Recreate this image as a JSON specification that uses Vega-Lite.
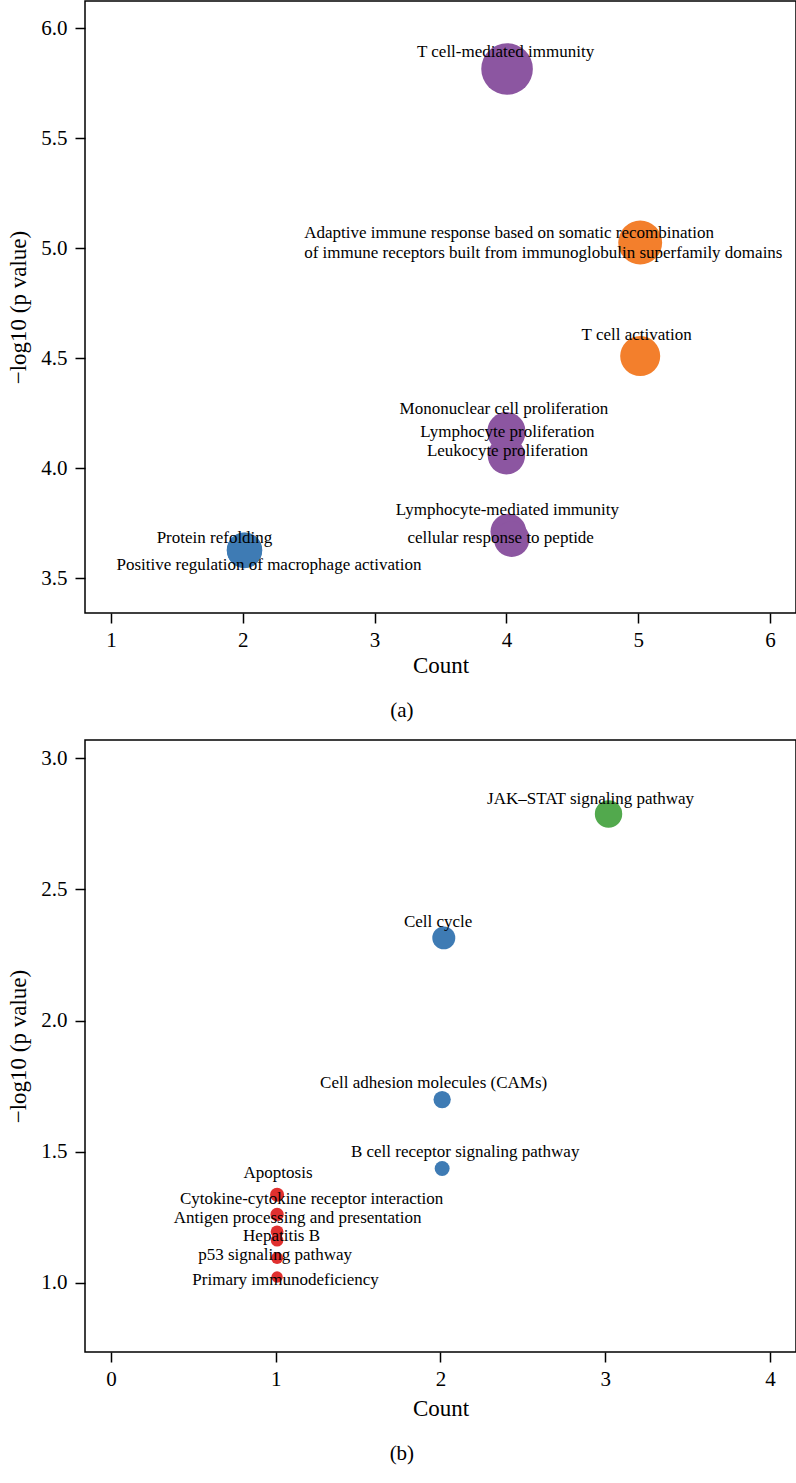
{
 "$schema": "https://vega.github.io/schema/vega-lite/v6.json",
 "background": "white",
 "padding": {"left": 7, "top": 0, "right": 1, "bottom": 0},
 "config": {
  "font": "Liberation Serif",
  "view": {"stroke": "black", "strokeWidth": 1.5},
  "axis": {"domain": false, "grid": false, "tickSize": 10, "tickWidth": 1.5, "tickColor": "black", "labelFont": "Liberation Serif", "labelFontSize": 21, "labelColor": "black", "titleFont": "Liberation Serif", "titleFontSize": 23, "titleFontWeight": "normal", "titleColor": "black", "labelFlush": false},
  "axisX": {"labelPadding": 6, "titlePadding": 4},
  "axisY": {"labelPadding": 8, "titlePadding": 10},
  "title": {"font": "Liberation Serif", "fontSize": 21, "fontWeight": "normal", "color": "black", "orient": "bottom", "frame": "bounds", "anchor": "middle", "offset": 23},
  "text": {"font": "Liberation Serif", "fontSize": 17, "baseline": "middle", "align": "center", "color": "black", "lineBreak": "\n", "lineHeight": 20},
  "circle": {"opacity": 1},
  "concat": {"spacing": 17},
  "legend": {"disable": true}
 },
 "datasets": {
  "a": [
   {"term": "T cell-mediated immunity", "count": 4.005, "logp": 5.814},
   {"term": "Adaptive immune response based on somatic recombination\n\u00a0of immune receptors built from immunoglobulin superfamily domains", "count": 5.015, "logp": 5.025},
   {"term": "T cell activation", "count": 5.015, "logp": 4.509},
   {"term": "Mononuclear cell proliferation", "count": 4.0, "logp": 4.168},
   {"term": "Lymphocyte proliferation", "count": 4.0, "logp": 4.16},
   {"term": "Leukocyte proliferation", "count": 4.0, "logp": 4.056},
   {"term": "Lymphocyte-mediated immunity", "count": 4.015, "logp": 3.711},
   {"term": "cellular response to peptide", "count": 4.04, "logp": 3.677},
   {"term": "Protein refolding", "count": 2.013, "logp": 3.627},
   {"term": "Positive regulation of macrophage activation", "count": 2.013, "logp": 3.625}
  ],
  "b": [
   {"term": "JAK–STAT signaling pathway", "count": 3.02, "logp": 2.787},
   {"term": "Cell cycle", "count": 2.02, "logp": 2.315},
   {"term": "Cell adhesion molecules (CAMs)", "count": 2.01, "logp": 1.699},
   {"term": "B cell receptor signaling pathway", "count": 2.01, "logp": 1.436},
   {"term": "Apoptosis", "count": 1.008, "logp": 1.336},
   {"term": "Cytokine-cytokine receptor interaction", "count": 1.008, "logp": 1.261},
   {"term": "Antigen processing and presentation", "count": 1.008, "logp": 1.195},
   {"term": "Hepatitis B", "count": 1.008, "logp": 1.163},
   {"term": "p53 signaling pathway", "count": 1.008, "logp": 1.095},
   {"term": "Primary immunodeficiency", "count": 1.008, "logp": 1.023}
  ]
 },
 "resolve": {"scale": {"x": "independent", "y": "independent", "size": "independent"}},
 "vconcat": [
  {
   "width": 711, "height": 612,
   "title": {"text": "(a)"},
   "data": {"name": "a"},
   "encoding": {
    "x": {"field": "count", "type": "quantitative", "scale": {"domain": [0.803, 6.197], "nice": false, "zero": false}, "axis": {"values": [1, 2, 3, 4, 5, 6], "title": "Count"}},
    "y": {"field": "logp", "type": "quantitative", "scale": {"domain": [3.341, 6.123], "nice": false, "zero": false}, "axis": {"values": [3.5, 4, 4.5, 5, 5.5, 6], "format": ".1f", "title": "−log10 (p value)"}}
   },
   "layer": [
    {"mark": {"type": "circle", "opacity": 1},
     "encoding": {
      "size": {"field": "logp", "type": "quantitative", "scale": {"type": "pow", "exponent": 4, "domain": [3.627, 5.814], "range": [1253, 2663], "zero": false}, "legend": null},
      "color": {"field": "count", "type": "quantitative", "scale": {"type": "threshold", "domain": [1.5, 2.5, 3.5, 4.5], "range": ["#E0302F", "#3E7BB4", "#52A94D", "#8C56A1", "#F37F2C"]}, "legend": null}
     }},
    {"transform": [{"filter": "datum.term === 'T cell-mediated immunity'"}], "mark": {"type": "text", "dx": -1.5, "dy": -17}, "encoding": {"text": {"field": "term"}}},
    {"transform": [{"filter": "indexof(datum.term, 'Adaptive') === 0"}], "mark": {"type": "text", "align": "left", "dx": -336, "dy": -9.5}, "encoding": {"text": {"field": "term"}}},
    {"transform": [{"filter": "datum.term === 'T cell activation'"}], "mark": {"type": "text", "dx": -3.5, "dy": -21}, "encoding": {"text": {"field": "term"}}},
    {"transform": [{"filter": "datum.term === 'Mononuclear cell proliferation'"}], "mark": {"type": "text", "dx": -2.5, "dy": -22}, "encoding": {"text": {"field": "term"}}},
    {"transform": [{"filter": "datum.term === 'Lymphocyte proliferation'"}], "mark": {"type": "text", "dx": 1, "dy": -1}, "encoding": {"text": {"field": "term"}}},
    {"transform": [{"filter": "datum.term === 'Leukocyte proliferation'"}], "mark": {"type": "text", "dx": 1, "dy": -5}, "encoding": {"text": {"field": "term"}}},
    {"transform": [{"filter": "datum.term === 'Lymphocyte-mediated immunity'"}], "mark": {"type": "text", "dx": -1, "dy": -21.5}, "encoding": {"text": {"field": "term"}}},
    {"transform": [{"filter": "datum.term === 'cellular response to peptide'"}], "mark": {"type": "text", "dx": -11, "dy": -1}, "encoding": {"text": {"field": "term"}}},
    {"transform": [{"filter": "datum.term === 'Protein refolding'"}], "mark": {"type": "text", "dx": -30, "dy": -12}, "encoding": {"text": {"field": "term"}}},
    {"transform": [{"filter": "datum.term === 'Positive regulation of macrophage activation'"}], "mark": {"type": "text", "dx": 24.5, "dy": 14}, "encoding": {"text": {"field": "term"}}}
   ]
  },
  {
   "width": 711, "height": 612,
   "title": {"text": "(b)"},
   "data": {"name": "b"},
   "encoding": {
    "x": {"field": "count", "type": "quantitative", "scale": {"domain": [-0.158, 4.158], "nice": false, "zero": false}, "axis": {"values": [0, 1, 2, 3, 4], "title": "Count", "titlePadding": 8}},
    "y": {"field": "logp", "type": "quantitative", "scale": {"domain": [0.737, 3.069], "nice": false, "zero": false}, "axis": {"values": [1, 1.5, 2, 2.5, 3], "format": ".1f", "title": "−log10 (p value)"}}
   },
   "layer": [
    {"mark": {"type": "circle", "opacity": 1},
     "encoding": {
      "size": {"field": "logp", "type": "quantitative", "scale": {"type": "pow", "exponent": 2, "domain": [1.0, 2.787], "range": [125, 751], "zero": false}, "legend": null},
      "color": {"field": "count", "type": "quantitative", "scale": {"type": "threshold", "domain": [1.5, 2.5, 3.5, 4.5], "range": ["#E0302F", "#3E7BB4", "#52A94D", "#8C56A1", "#F37F2C"]}, "legend": null}
     }},
    {"transform": [{"filter": "datum.term === 'JAK–STAT signaling pathway'"}], "mark": {"type": "text", "dx": -18, "dy": -15}, "encoding": {"text": {"field": "term"}}},
    {"transform": [{"filter": "datum.term === 'Cell cycle'"}], "mark": {"type": "text", "dx": -5.7, "dy": -15.7}, "encoding": {"text": {"field": "term"}}},
    {"transform": [{"filter": "datum.term === 'Cell adhesion molecules (CAMs)'"}], "mark": {"type": "text", "dx": -8.5, "dy": -16.3}, "encoding": {"text": {"field": "term"}}},
    {"transform": [{"filter": "datum.term === 'B cell receptor signaling pathway'"}], "mark": {"type": "text", "dx": 23, "dy": -16.7}, "encoding": {"text": {"field": "term"}}},
    {"transform": [{"filter": "datum.term === 'Apoptosis'"}], "mark": {"type": "text", "dx": 1, "dy": -21.6}, "encoding": {"text": {"field": "term"}}},
    {"transform": [{"filter": "datum.term === 'Cytokine-cytokine receptor interaction'"}], "mark": {"type": "text", "dx": 34.5, "dy": -15}, "encoding": {"text": {"field": "term"}}},
    {"transform": [{"filter": "datum.term === 'Antigen processing and presentation'"}], "mark": {"type": "text", "dx": 20.5, "dy": -14}, "encoding": {"text": {"field": "term"}}},
    {"transform": [{"filter": "datum.term === 'Hepatitis B'"}], "mark": {"type": "text", "dx": 4.5, "dy": -4.3}, "encoding": {"text": {"field": "term"}}},
    {"transform": [{"filter": "datum.term === 'p53 signaling pathway'"}], "mark": {"type": "text", "dx": -2, "dy": -3}, "encoding": {"text": {"field": "term"}}},
    {"transform": [{"filter": "datum.term === 'Primary immunodeficiency'"}], "mark": {"type": "text", "dx": 8.5, "dy": 2.7}, "encoding": {"text": {"field": "term"}}}
   ]
  }
 ]
}
